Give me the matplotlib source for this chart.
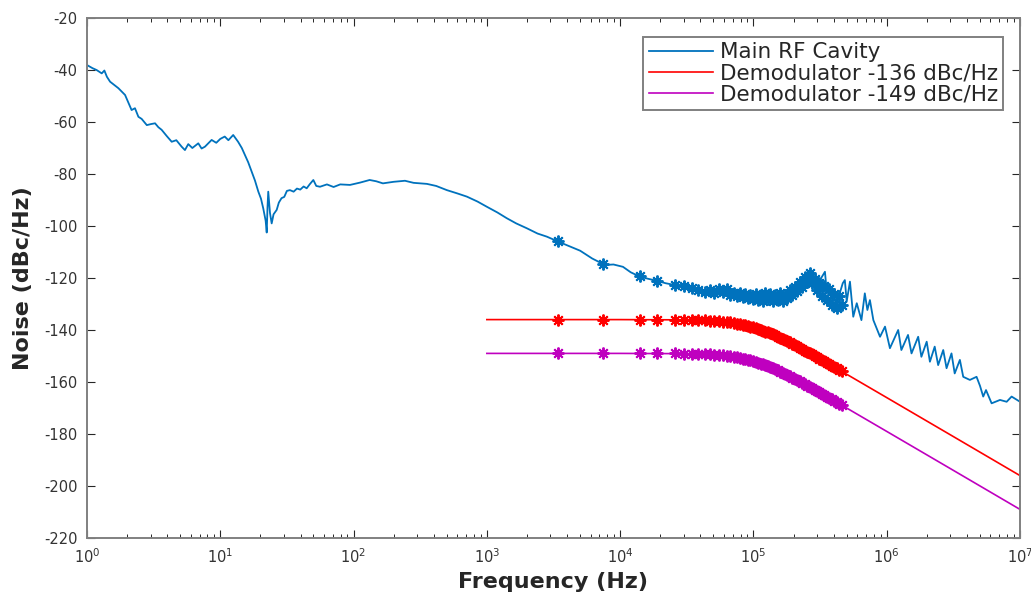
import numpy as np
from matplotlib import pyplot as plt
from matplotlib.ticker import LogLocator, NullFormatter

# main RF cavity trace (Hz, dBc/Hz)
cavity_f = [1.0, 1.10, 1.18, 1.29, 1.35, 1.41, 1.49, 1.58, 1.72, 1.82, 1.93,
            2.04, 2.16, 2.29, 2.43, 2.57, 2.81, 3.02, 3.24, 3.43, 3.63, 3.98,
            4.32, 4.68, 5.13, 5.43, 5.75, 6.17, 6.84, 7.24, 7.67, 8.61, 9.33,
            10.0, 10.8, 11.5, 12.5, 13.6, 14.5, 15.3, 16.2, 17.2, 18.2, 19.3,
            20.2, 21.0, 21.9, 22.3, 22.6, 22.9, 23.6, 24.3, 25.1, 26.5, 27.5,
            28.8, 30.2, 31.6, 33.3, 35.5, 37.6, 39.8, 42.2, 44.5, 46.8, 49.9,
            52.5, 56.0, 63.1, 70.8, 79.4, 94.0, 112, 132, 148, 166, 200, 243,
            282, 355, 417, 501, 603, 708, 851, 1000, 1200, 1410, 1660, 2000,
            2400, 2820, 3430, 4170, 5010, 6170, 7690, 8910, 10500, 12000,
            14100, 16200, 18600, 21900, 25700, 29500, 37600, 50100, 61700,
            79400, 105000, 141000, 178000, 209000, 251000, 295000, 344000,
            355000, 422000, 468000, 485000, 501000, 530000, 561000, 596000,
            646000, 685000, 716000, 748000, 794000, 891000, 971000, 1.057e6,
            1.219e6, 1.288e6, 1.445e6, 1.535e6, 1.722e6, 1.820e6, 1.995e6,
            2.109e6, 2.291e6, 2.432e6, 2.655e6, 2.812e6, 3.062e6, 3.236e6,
            3.540e6, 3.750e6, 4.207e6, 4.721e6, 5.012e6, 5.297e6, 5.559e6,
            6.124e6, 7.079e6, 7.943e6, 8.650e6, 1.0e7]
cavity_db = [-38.1, -39.3, -40.0, -41.3, -40.2, -42.6, -44.5, -45.5, -47.0,
             -48.3, -49.6, -52.5, -55.4, -54.7, -58.0, -58.8, -61.2, -60.8,
             -60.5, -62.0, -63.0, -65.5, -67.6, -67.0, -69.5, -70.8, -68.5,
             -70.0, -68.2, -70.2, -69.5, -66.9, -68.0, -66.5, -65.6, -67.0,
             -65.0, -67.6, -70.0, -72.7, -75.5, -79.1, -82.5, -86.8, -89.5,
             -93.2, -98.0, -102.5, -93.0, -86.8, -95.0, -99.0, -95.5, -93.8,
             -91.0, -89.3, -88.8, -86.5, -86.2, -86.8, -85.6, -86.0, -84.8,
             -85.5, -84.0, -82.3, -84.6, -84.9, -84.0, -85.0, -84.0, -84.2,
             -83.3, -82.3, -82.8, -83.6, -83.0, -82.6, -83.4, -83.8, -84.6,
             -86.2, -87.5, -88.7, -90.6, -92.6, -94.8, -97.0, -99.0, -100.9,
             -102.9, -104.1, -106.0, -107.8, -109.5, -112.5, -115.0, -114.8,
             -115.7, -117.8, -119.5, -120.3, -121.0, -122.0, -122.7, -123.3,
             -124.6, -125.9, -124.6, -126.5, -127.2, -127.2, -127.8, -124.0,
             -119.5, -123.3, -117.6, -125.3, -129.7, -122.0, -120.8, -129.0,
             -121.4, -134.9, -129.7, -136.2, -125.9, -132.3, -128.5, -136.2,
             -142.6, -138.7, -147.0, -140.0, -147.7, -141.9, -149.0, -142.6,
             -150.3, -144.5, -152.2, -146.4, -153.5, -147.7, -154.7, -149.0,
             -156.7, -151.5, -158.0, -159.2, -158.0, -161.5, -165.6, -163.1,
             -168.2, -166.9, -167.6, -165.6, -167.6]

# frequencies of the measured points drawn with '*'
mark_f = [3.4e3, 7.5e3, 14.2e3, 19e3, 26e3, 30e3, 34.5e3, 38.5e3, 43e3, 47e3,
          51e3, 55e3, 59e3, 63e3, 67e3, 71e3, 75e3, 79e3, 83e3, 87e3, 91e3,
          95e3, 99e3, 104e3, 108e3, 113e3, 118e3, 123e3, 128e3, 134e3, 140e3,
          146e3, 152e3, 159e3, 166e3, 173e3, 180e3, 188e3, 196e3, 205e3,
          214e3, 223e3, 233e3, 243e3, 254e3, 265e3, 276e3, 288e3, 300e3,
          313e3, 327e3, 341e3, 356e3, 371e3, 387e3, 404e3, 421e3, 440e3,
          460e3]
mark_cavity = [-105.8, -114.6, -119.4, -121.0, -122.6, -123.2, -124.0, -124.6,
               -125.5, -124.8, -125.9, -124.2, -125.3, -124.4, -126.4, -125.6,
               -126.8, -125.7, -127.4, -126.0, -127.6, -126.4, -128.0, -126.2,
               -128.4, -126.5, -128.8, -125.9, -128.2, -126.0, -129.0, -126.6,
               -128.3, -125.8, -128.9, -126.4, -127.5, -124.8, -126.6, -123.4,
               -124.9, -121.6, -123.3, -119.6, -121.4, -118.0, -121.8, -120.4,
               -124.5, -121.9, -126.8, -123.0, -128.6, -124.4, -130.2, -126.0,
               -131.4, -127.0, -130.5]
mark_demod136 = [-136.0, -136.0, -136.0, -136.0, -136.0, -136.1, -136.2,
                 -136.2, -136.3, -136.4, -136.5, -136.7, -136.8, -137.0,
                 -137.1, -137.3, -137.5, -137.7, -138.0, -138.2, -138.4,
                 -138.7, -138.9, -139.3, -139.5, -139.9, -140.2, -140.6,
                 -140.9, -141.3, -141.7, -142.1, -142.5, -143.0, -143.5,
                 -143.9, -144.3, -144.8, -145.3, -145.8, -146.3, -146.8,
                 -147.4, -147.9, -148.4, -148.9, -149.4, -150.0, -150.5,
                 -151.0, -151.6, -152.1, -152.6, -153.2, -153.7, -154.3,
                 -154.8, -155.4, -155.9]
mark_demod149 = [-149.0, -149.0, -149.0, -149.0, -149.0, -149.1, -149.2,
                 -149.2, -149.3, -149.4, -149.5, -149.7, -149.8, -150.0,
                 -150.1, -150.3, -150.5, -150.7, -151.0, -151.2, -151.4,
                 -151.7, -151.9, -152.3, -152.5, -152.9, -153.2, -153.6,
                 -153.9, -154.3, -154.7, -155.1, -155.5, -156.0, -156.5,
                 -156.9, -157.3, -157.8, -158.3, -158.8, -159.3, -159.8,
                 -160.4, -160.9, -161.4, -161.9, -162.4, -163.0, -163.5,
                 -164.0, -164.6, -165.1, -165.6, -166.2, -166.7, -167.3,
                 -167.8, -168.4, -168.9]

# demodulator model curves
demod_f = [1e3, 1e4, 3e4, 5e4, 7e4, 1e5, 1.5e5, 2e5, 3e5, 5e5, 1e6, 3e6, 1e7]
demod136 = [-136.0, -136.0, -136.1, -136.5, -137.3, -139.0, -142.4, -145.5,
            -150.5, -157.0, -166.0, -180.3, -196.0]
demod149 = [-149.0, -149.0, -149.1, -149.5, -150.3, -152.0, -155.4, -158.5,
            -163.5, -170.0, -179.0, -193.3, -209.0]

labels = ['Main RF Cavity', 'Demodulator -136 dBc/Hz',
          'Demodulator -149 dBc/Hz']
blue = '#0072BD'
red = '#FF0000'
magenta = '#BF00BF'

plt.rcParams['font.family'] = ['DejaVu Sans']
plt.rcParams['axes.unicode_minus'] = False

fig = plt.figure(figsize=(10.31, 5.94), dpi=100)
ax = fig.add_axes([87 / 1031, 1 - 538 / 594, 933 / 1031, 520 / 594])

star = (8, 2, 0)
h1, = ax.plot(cavity_f, cavity_db, color=blue, lw=1.3)
ax.plot(mark_f, mark_cavity, ls='none', marker=star, ms=8.5, mew=1.4,
        color=blue)
h2, = ax.plot(demod_f, demod136, color=red, lw=1.2)
ax.plot(mark_f, mark_demod136, ls='none', marker=star, ms=8.5, mew=1.4,
        color=red)
h3, = ax.plot(demod_f, demod149, color=magenta, lw=1.2)
ax.plot(mark_f, mark_demod149, ls='none', marker=star, ms=8.5, mew=1.4,
        color=magenta)

ax.set_xscale('log')
ax.set_xlim(1, 1e7)
ax.set_ylim(-220, -20)
ax.set_yticks(np.arange(-220, -19, 20))
ax.xaxis.set_major_locator(LogLocator(base=10, numticks=10))
ax.xaxis.set_minor_locator(LogLocator(base=10, subs=np.arange(2, 10),
                                      numticks=100))
ax.xaxis.set_minor_formatter(NullFormatter())

for s in ax.spines.values():
    s.set_color('#808080')
    s.set_linewidth(1.4)
ax.tick_params(which='both', direction='in', top=True, right=True,
               color='#262626', labelcolor='#333333', labelsize=10.5)
ax.tick_params(which='major', length=5.5, width=0.8, pad=7)
ax.tick_params(which='minor', length=3, width=0.7)

ax.set_xlabel('Frequency (Hz)', fontsize=16, fontweight='bold',
              color='#262626', labelpad=4)
ax.set_ylabel('Noise (dBc/Hz)', fontsize=16, fontweight='bold',
              color='#262626', labelpad=8)

leg = ax.legend([h1, h2, h3], labels, loc='upper right',
                bbox_to_anchor=(0.982, 0.964), fontsize=15.5, fancybox=False,
                framealpha=1, edgecolor='#808080', borderpad=0.25,
                labelspacing=0.05, handlelength=3.0, handletextpad=0.3,
                borderaxespad=0)
leg.get_frame().set_linewidth(1.4)
for t in leg.get_texts():
    t.set_color('#262626')

fig.savefig('out.png', dpi=100)
